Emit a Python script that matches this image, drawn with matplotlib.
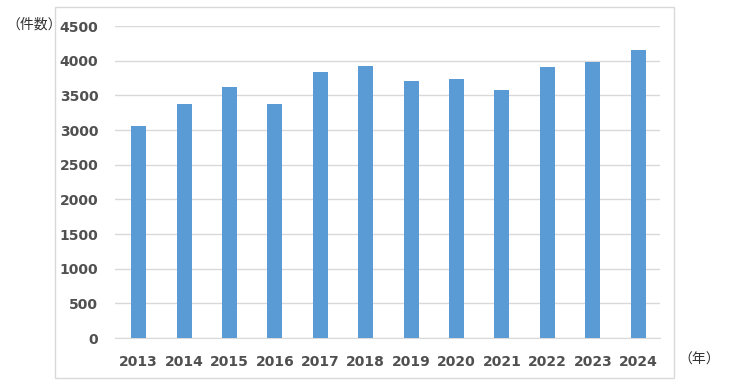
import matplotlib.pyplot as plt
from matplotlib.patches import Rectangle

plt.rcParams['font.family'] = ['Noto Sans CJK JP', 'DejaVu Sans']

#values
years = ['2013', '2014', '2015', '2016', '2017', '2018',
         '2019', '2020', '2021', '2022', '2023', '2024']
counts = [3062, 3381, 3613, 3381, 3830, 3917, 3700, 3729, 3570, 3903, 3975, 4149]
yticks = [0, 500, 1000, 1500, 2000, 2500, 3000, 3500, 4000, 4500]

fig = plt.figure(figsize=(7.29, 3.9), dpi=100)
ax = fig.add_axes([115 / 729, 1 - 338 / 390, (660 - 115) / 729, (338 - 26) / 390])

#outer frame of the chart
fig.patches.append(Rectangle((55 / 729, 1 - 378 / 390), (674 - 55) / 729, (378 - 7) / 390,
                             transform=fig.transFigure, fill=False,
                             edgecolor='#d9d9d9', linewidth=1))

x = range(len(years))
ax.bar(x, counts, width=0.33, color='#5b9bd5', zorder=3)

ax.set_xlim(-0.52, 11.48)
ax.set_ylim(0, 4500)
ax.set_yticks(yticks)
ax.set_xticks(list(x))
ax.set_xticklabels(years)
ax.grid(axis='y', color='#d9d9d9', linewidth=1, zorder=0)
for s in ['top', 'right', 'left']:
    ax.spines[s].set_visible(False)
ax.spines['bottom'].set_color('#d9d9d9')
ax.tick_params(length=0, labelsize=10, labelcolor='#505050')
ax.tick_params(axis='x', pad=12)
ax.tick_params(axis='y', pad=12)
for lbl in ax.get_xticklabels() + ax.get_yticklabels():
    lbl.set_fontweight('bold')
    lbl.set_family('DejaVu Sans')

fig.text(6 / 729, 1 - 25 / 390, '（件数）', fontsize=10, color='#333333', va='center', ha='left')
fig.text(678 / 729, 1 - 360 / 390, '（年）', fontsize=10, color='#333333', va='center', ha='left')

plt.savefig('out.png', dpi=100)
